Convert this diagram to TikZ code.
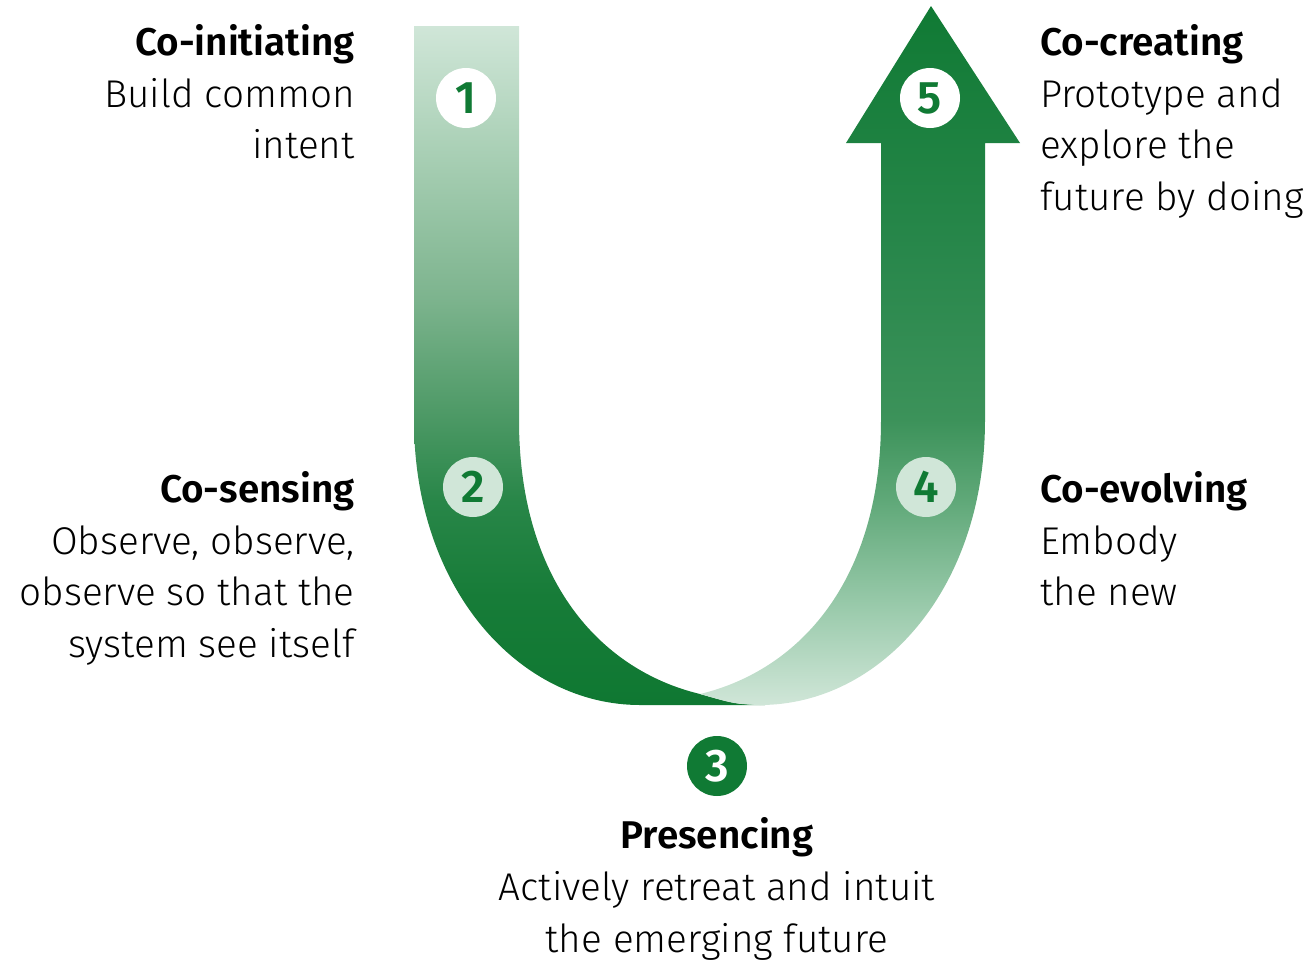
\documentclass[tikz,border=0pt]{standalone}
\usepackage{fontspec}
\setmainfont{Fira Sans}[UprightFont=* Light, BoldFont=* SemiBold]
\usetikzlibrary{positioning}

\definecolor{uGreen}{HTML}{107A34}
\definecolor{uLight}{HTML}{D0E6D8}
% stops for the descending band
\definecolor{dA}{HTML}{0F7832}
\definecolor{dB}{HTML}{177C38}
\definecolor{dC}{HTML}{288648}
\definecolor{dD}{HTML}{4B9864}
\definecolor{dE}{HTML}{7DB48E}
\definecolor{dF}{HTML}{AAD0B6}
% stops for the rising band
\definecolor{rB}{HTML}{96C8A8}
\definecolor{rC}{HTML}{5FA878}
\definecolor{rD}{HTML}{3C925A}
\definecolor{rE}{HTML}{28874B}

\pgfdeclareverticalshading{descent}{100bp}{color(0bp)=(dA); color(25bp)=(dA);
  color(33bp)=(dB); color(40bp)=(dC); color(46bp)=(dD); color(55bp)=(dE);
  color(66bp)=(dF); color(75bp)=(uLight); color(100bp)=(uLight)}
\pgfdeclareverticalshading{ascent}{100bp}{color(0bp)=(uLight); color(25bp)=(uLight);
  color(32.5bp)=(rB); color(39.7bp)=(rC); color(45.4bp)=(rD); color(57.5bp)=(rE);
  color(75bp)=(uGreen); color(100bp)=(uGreen)}

\begin{document}
\begin{tikzpicture}[
  x=0.02cm, y=-0.02cm,
  num/.style={circle, minimum size=1.2cm, inner sep=0pt,
    font=\fontsize{26}{26}\selectfont\bfseries},
  stage/.style={inner sep=0pt, font=\fontsize{22}{29.4}\selectfont}
]
\useasboundingbox (0,0) rectangle (1309,961);

% left band, going down
\path[shading=descent] (414,26) -- (414,420)
  .. controls (414,590) and (520,705) .. (640,705) -- (765,705)
  .. controls (735,704) .. (700,694)
  .. controls (600,670) and (519,580) .. (519,420) -- (519,26) -- cycle;
% right band with the arrow head, going up
\path[shading=ascent] (700,694) .. controls (800,670) and (881,580) .. (881,420)
  -- (881,143) -- (846,143) -- (931,6) -- (1020,143) -- (985,143) -- (985,420)
  .. controls (985,590) and (880,705) .. (760,705)
  .. controls (735,704) .. (700,694) -- cycle;

% numbers
\node[num, fill=white, text=uGreen] (num1) at (466,98) {1};
\node[num, fill=uLight, text=uGreen] (num2) at (473,487) {2};
\node[num, fill=uGreen, text=white] (num3) at (717,766) {3};
\node[num, fill=uLight, text=uGreen] (num4) at (926,487) {4};
\node[num, fill=white, text=uGreen] (num5) at (930,98) {5};

% stage texts
\node[stage, anchor=north east, align=right] (initiating) at (355,24)
  {\textbf{Co-initiating}\\Build common\\intent};
\node[stage, anchor=north east, align=right] (sensing) at (355,471)
  {\textbf{Co-sensing}\\Observe, observe,\\observe so that the\\system see itself};
\node[stage, anchor=north west, align=left] (creating) at (1040,24)
  {\textbf{Co-creating}\\Prototype and\\explore the\\future by doing};
\node[stage, anchor=north west, align=left] (evolving) at (1040,471)
  {\textbf{Co-evolving}\\Embody\\the new};
\node[stage, below=0.42cm of num3, align=center] (presencing)
  {\textbf{Presencing}\\Actively retreat and intuit\\the emerging future};
\end{tikzpicture}
\end{document}
